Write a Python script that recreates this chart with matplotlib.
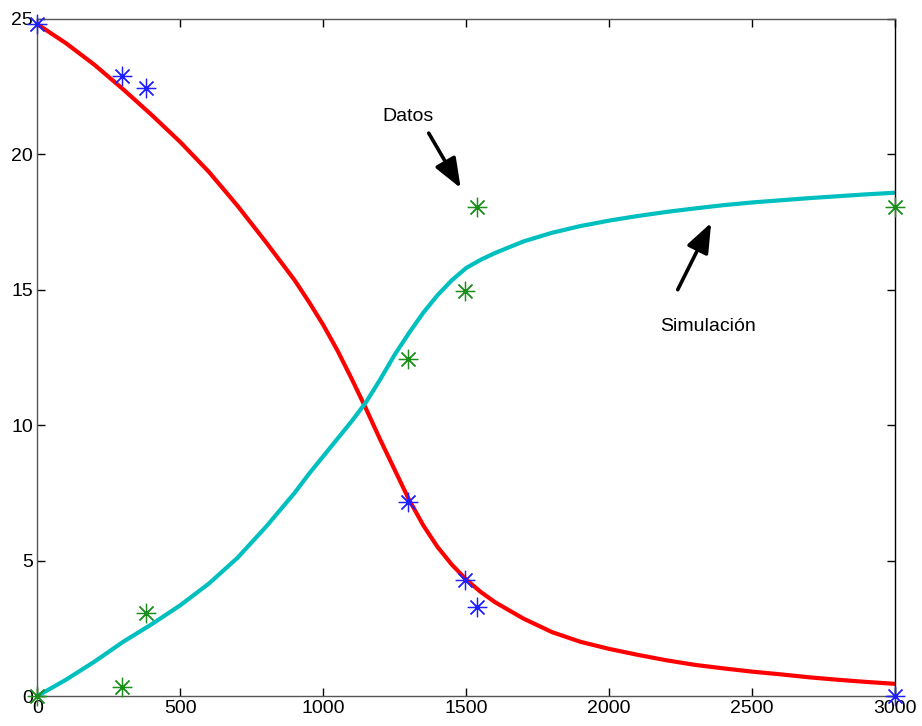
import matplotlib
matplotlib.use("Agg")
import matplotlib.pyplot as plt

plt.rcParams['font.family'] = ['Liberation Sans', 'DejaVu Sans']

# Measured samples (time, concentration)
data_t = [0, 295, 380, 1295, 1495, 1537, 3000]
data_a = [24.8, 22.88, 22.45, 7.15, 4.3, 3.3, 0.0]
data_b = [0.0, 0.34, 3.05, 12.45, 14.95, 18.05, 18.05]

# Simulated trajectories
sim_t = [0, 100, 200, 300, 400, 500, 600, 700, 800, 900, 950, 1000, 1050,
         1100, 1150, 1200, 1250, 1300, 1350, 1400, 1450, 1500, 1550, 1600,
         1700, 1800, 1900, 2000, 2100, 2200, 2300, 2400, 2500, 2600, 2700,
         2800, 2900, 3000]
sim_a = [24.8, 24.1, 23.3, 22.4, 21.45, 20.45, 19.35, 18.1, 16.75, 15.35,
         14.55, 13.7, 12.75, 11.7, 10.6, 9.45, 8.35, 7.25, 6.3, 5.5, 4.85,
         4.3, 3.85, 3.47, 2.86, 2.36, 2.0, 1.74, 1.52, 1.32, 1.15, 1.02,
         0.9, 0.8, 0.69, 0.6, 0.52, 0.45]
sim_b = [0.0, 0.6, 1.27, 2.0, 2.65, 3.35, 4.15, 5.1, 6.25, 7.5, 8.2, 8.85,
         9.5, 10.15, 10.85, 11.7, 12.6, 13.4, 14.15, 14.8, 15.35, 15.8, 16.1,
         16.35, 16.78, 17.1, 17.35, 17.55, 17.72, 17.87, 18.0, 18.12, 18.22,
         18.3, 18.38, 18.45, 18.52, 18.58]

x_ticks = [0, 500, 1000, 1500, 2000, 2500, 3000]
y_ticks = [0, 5, 10, 15, 20, 25]

fig = plt.figure(figsize=(9.22, 7.26), dpi=100)
ax = fig.add_axes([0.0405, 0.0413, 0.9302, 0.9328])

ax.plot(sim_t, sim_a, color='#ff0000', lw=3.0, zorder=2,
        solid_joinstyle='round')
ax.plot(sim_t, sim_b, color='#00bfbf', lw=3.0, zorder=2,
        solid_joinstyle='round')

star = (8, 2, 0)
ax.plot(data_t, data_a, linestyle='none', marker=star, markersize=14,
        markeredgewidth=0.9, color='#2020ff', clip_on=False, zorder=3)
ax.plot(data_t, data_b, linestyle='none', marker=star, markersize=14,
        markeredgewidth=0.9, color='#1a8f1a', clip_on=False, zorder=3)

arrow_style = dict(arrowstyle='-|>,head_length=0.9,head_width=0.35',
                   color='black', lw=2.6, shrinkA=0, shrinkB=0,
                   mutation_scale=20)
ax.annotate('', xy=(1481, 18.75), xytext=(1369, 20.78), arrowprops=arrow_style)
ax.annotate('', xy=(2357, 17.47), xytext=(2240, 15.0), arrowprops=arrow_style)
ax.text(1297, 21.4, 'Datos', fontsize=14, ha='center', va='center')
ax.text(2345, 13.63, 'Simulación', fontsize=14, ha='center', va='center')

ax.set_xlim(0, 3000)
ax.set_ylim(0, 25)
ax.set_xticks(x_ticks)
ax.set_yticks(y_ticks)
ax.tick_params(direction='in', length=6, width=1, top=True, right=True,
               labelsize=14, pad=3, colors='black')
for side in ['left', 'bottom', 'top']:
    ax.spines[side].set_color('#555555')
ax.spines['right'].set_color('black')
for s in ax.spines.values():
    s.set_linewidth(1.0)

fig.savefig('out.png', dpi=100, facecolor='white')
